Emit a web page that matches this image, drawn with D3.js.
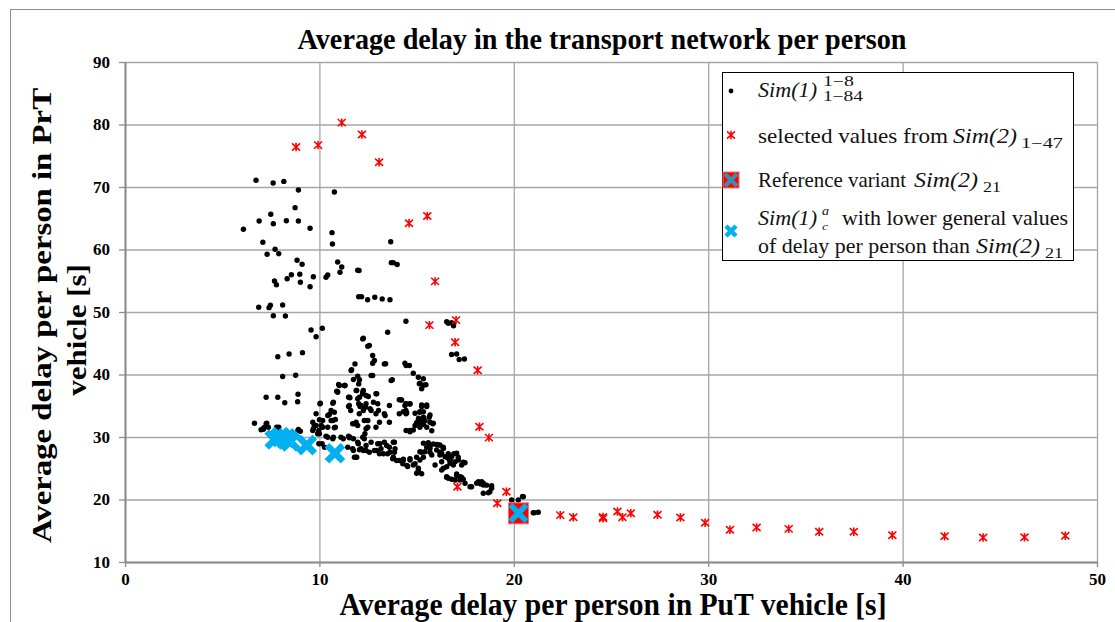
<!DOCTYPE html>
<html>
<head>
<meta charset="utf-8">
<script src="https://cdn.jsdelivr.net/npm/d3@7"></script>
<style>
body { margin: 0; background: #fff; }
svg text { font-family: "Liberation Serif", "Times New Roman", serif; }
</style>
</head>
<body>
<div class="chart"></div>
<script>
// Sim(1) variants (PuT delay, PrT delay)
var sim1Points = [
  [6.74,71.07],[7.62,70.64],[8.17,70.9],[8.92,69.52],[10.77,69.2],[8.75,66.7],[7.5,65.63],[6.9,64.56],[7.63,64.13],[8.3,64.6],
  [8.92,64.56],[9.52,63.39],[6.09,63.23],[10.65,62.7],[10.67,60.88],[7.09,61.15],[7.72,60.03],[7.91,59.33],[7.31,59.23],[8.85,58.27],
  [9.11,57.63],[10.94,58],[11.15,57.2],[11.06,56.35],[11.97,56.67],[8.56,55.97],[8.34,55.33],[8.99,56.03],[9.02,54.75],[9.69,55.65],
  [7.69,54.96],[7.79,54.37],[9.52,54.05],[10.43,55.92],[10.34,55.55],[12.02,52.45],[6.88,50.75],[7.48,51.07],[7.41,50.7],[8.11,51.12],
  [7.63,49.41],[8.25,49.36],[9.57,47.12],[10.15,47.39],[9.83,46.05],[7.86,42.85],[8.44,43.28],[9.13,43.5],
  [12.23,45.7],[12.49,44.53],[11.83,41.7],[11.66,40.75],[11.97,39.73],[8.11,39.68],[8.78,39.89],[11.75,39.2],[12.02,38.5],[10.99,38.4],
  [11.3,38.24],[10.93,37.28],[11.89,37.44],[12.26,37.44],[7.26,36.37],[7.86,36.37],[8.9,36.85],[8.22,35.47],[8.88,35.63],[10.05,35.41],
  [10.72,35.57],[11.5,36.37],[12.06,36.37],[11.5,34.88],[12.02,35.31],[12.37,34.77],[10.6,34.24],[10.77,33.97],[9.83,33.71],[10.51,33.6],
  [6.66,32.21],[7.0,31.15],[7.26,32.11],[7.14,31.47],[7.91,31.57],[8.92,31.2],[9.02,30.93],[10,32.75],[9.66,32.37],[9.83,31.84],
  [10.09,31.84],[10.43,31.57],[10.77,31.47],[9.69,31.31],[9.97,31.04],[10.6,32.64],[10.82,32.8],[11.8,32.11],[11.97,31.84],[12.31,32.64],
  [12.4,31.31],[10,30.51],[10.34,30.13],[10.72,29.97],[11.11,29.97],[11.5,30.13],[11.75,29.71],[11.97,29.17],[12.23,29.97],[12.4,28.64],
  [10.14,28.91],[9.97,28.91],[12.14,28.11],[11.8,26.77],[12.4,27.84],
  [12.74,41.8],[13.34,41.7],[14.46,41.44],[11.63,40.64],[12.06,39.15],[12.66,39.84],[13.69,39.04],[11.03,38.24],[11.29,38.24],[10.94,37.17],
  [12.23,37.17],[11.54,36.37],[11.97,36.11],[12.4,36.64],[12.91,36.91],[14.11,35.95],[14.46,35.31],[10.69,35.41],[11.54,35.04],[12.14,35.04],
  [12.4,35.31],[12.66,34.24],[13,35.31],[13.6,35.04],[13.34,33.71],[12.91,33.71],[14.11,33.71],[14.46,33.71],[10.03,35.31],[10.43,33.44],
  [10.69,32.64],[10.17,32.64],[9.74,31.84],[9.66,31.04],[9.91,30.51],[10.17,31.57],[10.82,31.57],[11.71,32.11],[11.89,32.37],[12.49,32.64],
  [12.49,31.57],[12.91,31.57],[13.09,32.37],[13.6,32.37],[14.46,31.04],[10.43,29.97],[10.69,29.71],[11.54,29.87],[12.31,29.71],[12.66,29.17],
  [13,28.91],[13.34,29.17],[13.86,29.17],[13.6,28.37],[13.17,28.11],[12.83,27.84],[13.51,27.31],[13.86,27.57],[13.09,27.31],[13.77,26.51],
  [14.11,26.24],[14.29,25.71],[14.54,25.28],[11.89,26.77],[11.46,28.37],[11.71,28.11],[12.06,27.95],[10.26,28.37],
  [14.45,48.53],[16.63,48.2],[13.51,46.77],[12.26,45.81],[12.57,44.64],[12.74,43.04],[12.83,42.24],[13.41,41.71],[14.4,41.81],[14.63,41.44],
  [16.8,43.2],[17.19,42.4],[14.83,40.21],[15.09,39.57],[15.35,39.31],[15.14,38.51],[15.48,38.35],[15.26,37.71],[13.75,39.15],[12.74,39.84],
  [11.32,38.24],[10.89,37.33],[14.18,35.95],[14.4,35.04],[14.66,35.31],[14.45,34.24],[13.38,33.44],[15.26,34.88],[15.52,34.88],[15.17,33.97],
  [15.35,33.17],[15.09,32.64],[15.65,33.17],[15.69,32.37],[15.83,32.11],[14.92,31.84],[14.66,31.04],[15.17,31.57],[15.52,31.57],
  [11.57,36.27],[11.92,37.44],[12.22,36.91],[12.52,36.48],[12.95,36.91],[12.78,35.57],[13.04,34.24],[12.61,34.51],[12.09,34.88],[12.26,34.24],
  [12.05,33.71],[11.61,34.24],
  [13.11,28.91],[13.46,28.64],[13.8,29.17],[13.89,28.11],[13.63,27.57],[13.29,27.31],[12.94,27.84],[13.8,26.77],[13.97,26.24],[14.31,26.24],
  [14.66,26.51],[15,26.77],[15.26,27.57],[15.52,28.37],[15.69,28.64],[16.03,28.8],[16.37,28.37],[16.2,27.57],[16.63,27.31],[16.92,27.31],
  [17.14,26.77],[17.4,25.97],[16.71,26.24],[15.69,27.57],[15.35,26.77],[14.92,25.71],[14.5,25.44],[15.09,24.64],[15.26,24.11],[16.54,23.57],
  [17.06,23.84],[17.31,23.57],[11.92,26.77],[11.75,27.84],[12.26,27.84],[12.57,27.57],[12.0,28.91],[11.57,29.97],[11.23,29.71],[12.34,30.51],
  [15.17,38.59],[15.35,38.3],[14.23,35.92],[14.45,35.28],[14.66,35.28],[14.32,34.05],[14.49,33.9],[15.26,35.12],[15.52,35.12],[14.92,33.79],
  [15.17,34.05],[15.35,34.05],[15.1,33.0],[15.26,32.7],[15.0,32.3],[15.17,32.0],[15.35,32.0],[15.43,32.6],[15.69,33.52],[15.86,32.19],
  [14.83,31.12],[14.66,30.85],[15.78,31.01],
  [15.35,28.99],[15.6,29.09],[15.86,28.88],[16.11,28.72],[15.69,28.19],[16.03,27.92],[16.38,28.19],[15.43,27.65],[15.17,27.65],[15.78,27.12],
  [16.2,27.12],[16.55,26.85],[16.72,26.32],[16.29,26.05],[15.95,25.52],[14.66,26.32],[14.32,26.43],[15.17,26.32],[14.83,25.52],[15.09,24.99],
  [15.0,24.19],[16.38,24.99],[16.89,25.52],[16.63,23.39],[16.98,23.12],[17.23,23.12],[17.49,22.59],[17.75,22.05],[18.18,22.85],[18.43,22.59],
  [18.86,21.79],
  [16.55,48.45],[16.8,48.3],[16.89,48.1],[17.06,43.28],[17.46,42.48],[16.2,28.72],[16.38,28.19],[16.29,27.39],[16.46,26.85],[16.63,26.59],
  [16.8,26.85],[17.06,27.39],[17.15,26.32],[16.98,26.05],[16.72,25.79],[16.55,25.25],[17.32,25.52],[17.49,25.89],[16.29,24.72],[16.55,23.65],
  [16.8,23.23],[17.06,24.08],[17.23,23.65],[17.4,23.23],[17.83,22.05],[18.09,22.59],[18.35,22.85],[18.43,22.32],[18.86,22.21],[18.43,20.99],
  [18.69,21.09],[18.77,21.25],[20.49,20.45],[19.89,19.92],[20.23,19.92],[21.0,17.89],[21.26,17.95],
  [13.67,61.25],[13.7,57.9],[13.8,57.9],[14.0,57.6],[12.04,56.65],[12.17,52.45],[12.48,51.97],[12.85,52.35],[13.23,52.1],[13.63,51.97],
  [16.9,47.8],[18.3,22.5],[18.6,22.3],[20.45,20.5],[21.06,17.9],
  [7.29,32.2],[7.12,31.24],[7.37,31.55],[7.8,31.55],[8.9,31.04]
];

// selected values from Sim(2)
var sim2Selected = [
  [8.8,76.4],[9.93,76.7],[11.15,80.3],[12.19,78.4],[13.07,73.95],[14.61,64.2],[15.55,65.36],[15.95,54.9],[15.66,47.9],[17.03,48.7],
  [16.98,45.15],[18.14,40.67],[18.23,31.65],[18.72,29.9],[17.1,22.05],[19.62,21.25],[19.15,19.4],[20.24,17.87],[22.39,17.5],[23.06,17.17],
  [24.59,17.2],[24.59,17.0],[25.33,18.08],[25.59,17.17],[26.02,17.8],[27.39,17.55],[28.57,17.12],[29.84,16.27],[31.12,15.15],[32.49,15.52],
  [34.14,15.3],[35.71,14.83],[37.49,14.83],[39.47,14.29],[42.16,14.13],[44.14,13.92],[46.27,13.97],[48.37,14.19]
];

// Sim(1) variants better than the reference
var sim1Lower = [[7.7,29.6],[8.0,30.0],[8.3,29.8],[8.5,29.3],[9.35,28.7],[10.8,27.4]];

var refVariant = [[20.24,17.87]];

var xTicks = [0,10,20,30,40,50];
var yTicks = [10,20,30,40,50,60,70,80,90];

var width = 1115, height = 622;
var gridColor = "#a6a6a6";
var blue = "#00b0f0";

var x = d3.scaleLinear().domain([0,50]).range([125,1097]);
var y = d3.scaleLinear().domain([10,90]).range([562,62]);

var svg = d3.select(".chart").append("svg")
    .attr("width", width)
    .attr("height", height);

// chart frame (runs off the right and bottom edges)
svg.append("rect")
    .attr("x", 10.5).attr("y", 9.5)
    .attr("width", 1130).attr("height", 640)
    .attr("fill", "none").attr("stroke", "#8c8c8c");

// grid
svg.append("g")
    .attr("transform", "translate(0,562)")
    .call(d3.axisBottom(x).tickValues(xTicks).tickSize(-500).tickFormat(""))
    .call(function(g){ g.select(".domain").remove(); })
    .selectAll("line").attr("stroke", gridColor).attr("stroke-width", 1.3);

svg.append("g")
    .attr("transform", "translate(125,0)")
    .call(d3.axisLeft(y).tickValues(yTicks).tickSize(-972).tickFormat(""))
    .call(function(g){ g.select(".domain").remove(); })
    .selectAll("line").attr("stroke", gridColor).attr("stroke-width", 1.3);

// axes
var xAxis = svg.append("g")
    .attr("transform", "translate(0,562)")
    .call(d3.axisBottom(x).tickValues(xTicks).tickSize(5).tickSizeOuter(0).tickPadding(6));
var yAxis = svg.append("g")
    .attr("transform", "translate(125,0)")
    .call(d3.axisLeft(y).tickValues(yTicks).tickSize(6).tickSizeOuter(0).tickPadding(9));

[xAxis, yAxis].forEach(function(a){
    a.selectAll("line").attr("stroke", "#8c8c8c").attr("stroke-width", 1.3);
    a.select(".domain").attr("stroke", "#8c8c8c").attr("stroke-width", 2);
    a.selectAll("text")
        .attr("font-family", "Liberation Serif")
        .attr("font-weight", "bold")
        .attr("font-size", 17)
        .attr("fill", "#000");
});

// titles
svg.append("text")
    .attr("x", 602).attr("y", 49)
    .attr("text-anchor", "middle")
    .attr("font-weight", "bold").attr("font-size", 30)
    .attr("textLength", 609).attr("lengthAdjust", "spacingAndGlyphs")
    .text("Average delay in the transport network per person");

svg.append("text")
    .attr("x", 613).attr("y", 615)
    .attr("text-anchor", "middle")
    .attr("font-weight", "bold").attr("font-size", 31)
    .attr("textLength", 547).attr("lengthAdjust", "spacingAndGlyphs")
    .text("Average delay per person in PuT vehicle [s]");

svg.append("text")
    .attr("transform", "translate(51,315.5) scale(0.9,1) rotate(-90)")
    .attr("text-anchor", "middle")
    .attr("font-weight", "bold").attr("font-size", 31)
    .attr("textLength", 455).attr("lengthAdjust", "spacingAndGlyphs")
    .text("Average delay per person in PrT");

svg.append("text")
    .attr("transform", "translate(86,330) scale(0.9,1) rotate(-90)")
    .attr("text-anchor", "middle")
    .attr("font-weight", "bold").attr("font-size", 31)
    .text("vehicle [s]");

// marks
var plot = svg.append("g");

plot.selectAll(".dot")
    .data(sim1Points)
    .enter().append("circle")
    .attr("class", "dot")
    .attr("cx", function(d){ return x(d[0]); })
    .attr("cy", function(d){ return y(d[1]); })
    .attr("r", 2.7)
    .attr("fill", "#000");

var redCross = "M-4,-3.6L4,3.6M-4,3.6L4,-3.6M0,-4.2V4.2";
plot.selectAll(".sel")
    .data(sim2Selected)
    .enter().append("path")
    .attr("class", "sel")
    .attr("transform", function(d){ return "translate(" + x(d[0]) + "," + y(d[1]) + ")"; })
    .attr("d", redCross)
    .attr("fill", "none")
    .attr("stroke", "#ff0000")
    .attr("stroke-width", 1.6);

plot.selectAll(".low")
    .data(sim1Lower)
    .enter().append("path")
    .attr("class", "low")
    .attr("transform", function(d){ return "translate(" + x(d[0]) + "," + y(d[1]) + ")"; })
    .attr("d", "M-8,-8L8,8M-8,8L8,-8")
    .attr("stroke", blue)
    .attr("stroke-width", 6.5);

var ref = plot.selectAll(".ref")
    .data(refVariant)
    .enter().append("g")
    .attr("class", "ref")
    .attr("transform", function(d){ return "translate(" + x(d[0]) + "," + y(d[1]) + ")"; });
ref.append("rect")
    .attr("x", -10).attr("y", -10).attr("width", 20).attr("height", 21)
    .attr("fill", "#ff0000").attr("stroke", "#ff7070");
ref.append("path")
    .attr("d", "M-8,-8L8,8.5M-8,8.5L8,-8")
    .attr("stroke", blue).attr("stroke-width", 5.5);

// legend
var lg = svg.append("g");
lg.append("rect")
    .attr("x", 722.5).attr("y", 72.5)
    .attr("width", 351).attr("height", 188)
    .attr("fill", "#fff").attr("stroke", "#000");

lg.append("circle").attr("cx", 731).attr("cy", 91).attr("r", 2.4).attr("fill", "#000");
lg.append("path").attr("transform", "translate(731,135)").attr("d", redCross)
    .attr("fill", "none").attr("stroke", "#ff0000").attr("stroke-width", 1.6);
lg.append("rect").attr("x", 723).attr("y", 172).attr("width", 16).attr("height", 16)
    .attr("fill", "#ff0000").attr("stroke", "#ff7070");
lg.append("path").attr("transform", "translate(731,180)").attr("d", "M-6,-6L6,6M-6,6L6,-6")
    .attr("stroke", "#3a8fb0").attr("stroke-width", 4);
lg.append("path").attr("transform", "translate(731,231)").attr("d", "M-5,-5L5,5M-5,5L5,-5")
    .attr("stroke", blue).attr("stroke-width", 4.5);

function piece(txt, px, py, len, size, italic) {
    lg.append("text")
        .attr("x", px).attr("y", py)
        .attr("font-size", size)
        .attr("font-style", italic ? "italic" : "normal")
        .attr("fill", "#111")
        .attr("textLength", len).attr("lengthAdjust", "spacingAndGlyphs")
        .text(txt);
}

piece("Sim(1)", 758, 97, 59, 22, true);
piece("1\u22128", 823, 86, 31, 14, false);
piece("1\u221284", 823, 101, 40, 14, false);

piece("selected values from", 758, 143, 190, 22, false);
piece("Sim(2)", 953, 143, 64, 22, true);
piece("1\u221247", 1021, 148, 42, 14, false);

piece("Reference  variant", 758, 187, 148, 22, false);
piece("Sim(2)", 914, 187, 64, 22, true);
piece("21", 983, 192, 18, 14, false);

piece("Sim(1)", 758, 225, 59, 22, true);
piece("a", 822, 215, 7, 12, true);
piece("c", 822, 230, 6, 11, true);
piece("with lower general values", 842, 225, 226, 22, false);
piece("of delay per person than", 758, 253, 212, 22, false);
piece("Sim(2)", 976, 253, 64, 22, true);
piece("21", 1045, 258, 18, 14, false);
</script>
</body>
</html>
